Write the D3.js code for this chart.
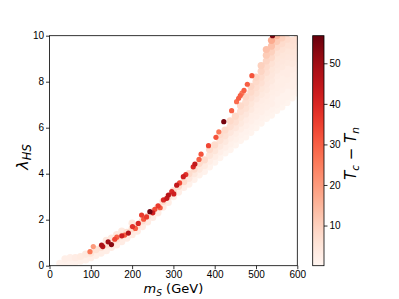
<!DOCTYPE html>
<html>
<head>
<meta charset="utf-8">
<script src="https://cdn.jsdelivr.net/npm/d3@7"></script>
<style>
  body { margin: 0; background: #fff; }
  svg { font-family: "DejaVu Sans", sans-serif; }
</style>
</head>
<body>
<div id="chart"></div>
<script>
// Chart size and plot box
const width = 399;
const height = 299;
const margin = {left: 49.5, right: 101.7, top: 35.7, bottom: 33.3};

// Ticks
const xTicks = [0, 100, 200, 300, 400, 500, 600];
const yTicks = [0, 2, 4, 6, 8, 10];
const cTicks = [10, 20, 30, 40, 50];
const cRange = [0.1, 56.8];

// Points on the edge of the band: [m_S, lambda_HS, Tc - Tn]
const edgePoints = [
  [98,0.61,26],[106,0.83,20],[126,0.90,48],[129,0.83,46],[142,1.04,50],[150,0.92,53],
  [158,1.15,34],[163,1.24,30],[175,1.30,42],[182,1.33,30],[191,1.42,47],[201,1.70,38],
  [208,1.62,30],[215,1.84,40],[223,2.20,36],[228,2.02,32],[235,2.12,36],[243,2.35,56],
  [250,2.30,42],[255,2.45,33],[263,2.60,36],[268,2.52,30],[276,2.86,40],[284,2.93,44],
  [288,3.07,46],[296,3.22,40],[301,3.12,42],[308,3.50,44],[315,3.60,34],[324,3.87,42],
  [330,3.96,38],[348,4.30,40],[352,4.42,44],[362,4.62,30],[367,4.85,32],[385,5.22,34],
  [403,5.58,32],[410,5.82,26],[422,6.26,55],[441,6.74,30],[453,7.13,28],[458,7.28,30],
  [462,7.40,30],[466,7.50,26],[471,7.62,30],[479,7.89,30],[490,8.26,32],[540,10.0,54]
];

// Faint points filling the band below the edge: [m_S, lambda_HS, Tc - Tn]
const bandPoints = [
  [25,0.10,1],
  [37.5,0.10,1],[37.5,0.30,2],
  [50,0.15,1],[50,0.35,2],
  [62.5,0.15,1],[62.5,0.35,3],
  [75,0.20,1.5],[75,0.40,3.5],
  [87.5,0.25,1.5],[87.5,0.50,4],
  [100,0.35,2],[100,0.55,5],
  [112.5,0.45,2],[112.5,0.70,6],
  [125,0.55,2.5],[125,0.80,6.5],
  [137.5,0.65,2.5],[137.5,0.90,6.5],[137.5,1.10,4],
  [150,0.80,3],[150,1.00,6.5],[150,1.20,4],
  [162.5,0.90,3],[162.5,1.15,6.5],[162.5,1.35,4],
  [175,1.05,3],[175,1.30,7],[175,1.50,4],
  [187.5,1.20,3],[187.5,1.45,7],
  [200,1.35,3],[200,1.60,7],[200,1.85,4],
  [212.5,1.50,3],[212.5,1.75,7],
  [225,1.70,3],[225,1.95,7],
  [237.5,1.90,3],[237.5,2.15,7],
  [250,2.10,3],[250,2.35,7],
  [262.5,2.30,3],[262.5,2.55,7.5],
  [275,2.55,3],[275,2.80,7.5],
  [287.5,2.75,2.5],[287.5,3.00,7.5],
  [300,3.00,2.5],[300,3.25,7.5],
  [312.5,3.20,2.5],[312.5,3.45,7.5],
  [325,3.40,2],[325,3.65,7.5],
  [337.5,3.55,1.5],[337.5,3.80,4.5],[337.5,4.00,7.5],
  [350,3.75,1.5],[350,4.00,4],[350,4.20,7.5],
  [362.5,3.95,1.5],[362.5,4.20,4],[362.5,4.45,7.5],
  [375,4.10,1],[375,4.35,3.5],[375,4.60,7.5],
  [387.5,4.30,0.8],[387.5,4.55,2.5],[387.5,4.80,5],[387.5,5.05,7.5],
  [400,4.50,0.8],[400,4.75,2.5],[400,5.00,5],[400,5.25,7.5],
  [412.5,4.70,0.6],[412.5,4.95,2],[412.5,5.20,4],[412.5,5.45,6],[412.5,5.70,7.5],
  [425,4.90,0.6],[425,5.15,2],[425,5.40,4],[425,5.65,6],[425,5.90,7.5],
  [437.5,5.05,0.5],[437.5,5.30,1.5],[437.5,5.55,2.5],[437.5,5.80,4.5],[437.5,6.05,6.5],[437.5,6.30,8],
  [450,5.25,0.5],[450,5.50,1.5],[450,5.75,2.5],[450,6.00,4.5],[450,6.25,6.5],[450,6.50,8],
  [462.5,5.45,0.5],[462.5,5.70,1],[462.5,5.95,2.5],[462.5,6.20,4],[462.5,6.45,5],[462.5,6.70,6.5],[462.5,6.95,8],
  [475,5.60,0.5],[475,5.85,1],[475,6.10,2],[475,6.35,3],[475,6.60,4.5],[475,6.85,6],[475,7.10,7],[475,7.35,8.5],
  [487.5,5.80,0.5],[487.5,6.05,1],[487.5,6.30,2],[487.5,6.55,2.5],[487.5,6.80,4],[487.5,7.05,5],[487.5,7.30,6.5],[487.5,7.55,8],[487.5,7.80,9],
  [500,6.00,0.5],[500,6.25,1],[500,6.50,2],[500,6.75,2.5],[500,7.00,3],[500,7.25,4.5],[500,7.50,6],[500,7.75,7],[500,8.00,8],[500,8.20,9],
  [512.5,6.20,0.5],[512.5,6.45,1],[512.5,6.70,2],[512.5,6.95,2.5],[512.5,7.20,3],[512.5,7.45,4],[512.5,7.70,5],[512.5,7.95,6.5],[512.5,8.20,7.5],[512.5,8.45,9],[512.5,8.70,10],
  [525,6.40,0.5],[525,6.65,1],[525,6.90,2],[525,7.15,2.5],[525,7.40,3],[525,7.65,4],[525,7.90,4.5],[525,8.15,5],[525,8.40,6.5],[525,8.65,7.5],[525,8.90,9],[525,9.15,11],[525,9.40,13],
  [537.5,6.55,0.5],[537.5,6.80,1],[537.5,7.05,2],[537.5,7.30,2],[537.5,7.55,2.5],[537.5,7.80,3],[537.5,8.05,4],[537.5,8.30,4.5],[537.5,8.55,5],[537.5,8.80,6],[537.5,9.05,8],[537.5,9.30,10],[537.5,9.55,13],[537.5,9.80,17],
  [550,6.75,0.5],[550,7.00,1],[550,7.25,1],[550,7.50,2],[550,7.75,2.5],[550,8.00,2.5],[550,8.25,3],[550,8.50,4],[550,8.75,4.5],[550,9.00,5],[550,9.25,6],[550,9.50,8],[550,9.75,11],[550,10.0,15],
  [562.5,6.90,0.5],[562.5,7.15,1],[562.5,7.40,1],[562.5,7.65,2],[562.5,7.90,2.5],[562.5,8.15,2.5],[562.5,8.40,3],[562.5,8.65,4],[562.5,8.90,4.5],[562.5,9.15,5],[562.5,9.40,6],[562.5,9.65,7.5],[562.5,9.90,10],
  [575,7.10,0.5],[575,7.35,1],[575,7.60,1],[575,7.85,2],[575,8.10,2.5],[575,8.35,3],[575,8.60,3],[575,8.85,4],[575,9.10,4.5],[575,9.35,5],[575,9.60,6],[575,9.85,7.5],
  [587.5,7.30,0.5],[587.5,7.55,1],[587.5,7.80,2],[587.5,8.05,2],[587.5,8.30,2.5],[587.5,8.55,3],[587.5,8.80,4],[587.5,9.05,4.5],[587.5,9.30,5],[587.5,9.55,6],[587.5,9.80,6.5],
  [600,7.50,0.5],[600,7.75,1],[600,8.00,2],[600,8.25,2],[600,8.50,2.5],[600,8.75,3],[600,9.00,4],[600,9.25,4.5],[600,9.50,5],[600,9.75,6],[600,10.0,6.5]
];

const svg = d3.select("#chart")
  .append("svg")
  .attr("width", width)
  .attr("height", height);

const xScale = d3.scaleLinear().domain([0, 600]).range([margin.left, width - margin.right]);
const yScale = d3.scaleLinear().domain([0, 10]).range([height - margin.bottom, margin.top]);
const color = d3.scaleSequential(d3.interpolateReds).domain(cRange);

// clip the points to the plot box
svg.append("clipPath").attr("id", "box")
  .append("rect")
  .attr("x", margin.left).attr("y", margin.top)
  .attr("width", width - margin.left - margin.right)
  .attr("height", height - margin.top - margin.bottom);

const pts = svg.append("g").attr("clip-path", "url(#box)");

// faint ones first, lowest values at the bottom
pts.selectAll(".band")
  .data(bandPoints.slice().sort((a, b) => a[2] - b[2]))
  .enter()
  .append("circle")
    .attr("class", "band")
    .attr("cx", d => xScale(d[0]))
    .attr("cy", d => yScale(d[1]))
    .attr("r", 3.6)
    .attr("fill", d => color(d[2]));

pts.selectAll(".edge")
  .data(edgePoints.slice().sort((a, b) => a[2] - b[2]))
  .enter()
  .append("circle")
    .attr("class", "edge")
    .attr("cx", d => xScale(d[0]))
    .attr("cy", d => yScale(d[1]))
    .attr("r", 2.6)
    .attr("fill", d => color(d[2]));

// Axes
const xAxis = svg.append("g")
  .attr("transform", `translate(0,${height - margin.bottom})`)
  .call(d3.axisBottom(xScale).tickValues(xTicks).tickSize(3.5).tickPadding(2));
const yAxis = svg.append("g")
  .attr("transform", `translate(${margin.left},0)`)
  .call(d3.axisLeft(yScale).tickValues(yTicks).tickSize(3.5).tickPadding(2));

[xAxis, yAxis].forEach(a => {
  a.select(".domain").remove();
  a.selectAll("text").attr("font-size", "10px").attr("fill", "#000");
  a.selectAll("line").attr("stroke", "#000").attr("stroke-width", 0.8);
});

// Frame
svg.append("rect")
  .attr("x", margin.left).attr("y", margin.top)
  .attr("width", width - margin.left - margin.right)
  .attr("height", height - margin.top - margin.bottom)
  .attr("fill", "none")
  .attr("stroke", "#000")
  .attr("stroke-width", 0.8);

// Axis labels
const xl = svg.append("text")
  .attr("x", (margin.left + width - margin.right) / 2)
  .attr("y", 293)
  .attr("text-anchor", "middle")
  .attr("font-size", "13px");
xl.append("tspan").attr("font-style", "italic").text("m");
xl.append("tspan").attr("font-style", "italic").attr("font-size", "9px").attr("dy", 2.5).text("S");
xl.append("tspan").attr("dy", -2.5).text(" (GeV)");

const yl = svg.append("text")
  .attr("transform", `translate(28,157) rotate(-90)`)
  .attr("text-anchor", "middle")
  .attr("font-size", "16px");
yl.append("tspan").attr("font-style", "italic").text("λ");
yl.append("tspan").attr("font-style", "italic").attr("font-size", "11.5px").attr("dy", 3).text("HS");

/*
  Colorbar
*/
const cbX = 312.7, cbW = 11.3;
const cScale = d3.scaleLinear().domain(cRange).range([height - margin.bottom, margin.top]);

const grad = svg.append("defs").append("linearGradient")
  .attr("id", "cbgrad")
  .attr("x1", 0).attr("y1", 1).attr("x2", 0).attr("y2", 0);
d3.range(0, 1.0001, 0.05).forEach(t => {
  grad.append("stop").attr("offset", t).attr("stop-color", d3.interpolateReds(t));
});

svg.append("rect")
  .attr("x", cbX).attr("y", margin.top)
  .attr("width", cbW).attr("height", height - margin.top - margin.bottom)
  .attr("fill", "url(#cbgrad)")
  .attr("stroke", "#000").attr("stroke-width", 0.8);

const cAxis = svg.append("g")
  .attr("transform", `translate(${cbX + cbW},0)`)
  .call(d3.axisRight(cScale).tickValues(cTicks).tickSize(3.5).tickPadding(2));
cAxis.select(".domain").remove();
cAxis.selectAll("text").attr("font-size", "10px").attr("fill", "#000");
cAxis.selectAll("line").attr("stroke", "#000").attr("stroke-width", 0.8);

const cl = svg.append("text")
  .attr("transform", `translate(356,153.5) rotate(-90)`)
  .attr("text-anchor", "middle")
  .attr("font-size", "15px");
cl.append("tspan").attr("font-style", "italic").text("T");
cl.append("tspan").attr("font-style", "italic").attr("font-size", "10.5px").attr("dy", 3).text("c");
cl.append("tspan").attr("dy", -3).text(" − ");
cl.append("tspan").attr("font-style", "italic").text("T");
cl.append("tspan").attr("font-style", "italic").attr("font-size", "10.5px").attr("dy", 3).text("n");
</script>
</body>
</html>
